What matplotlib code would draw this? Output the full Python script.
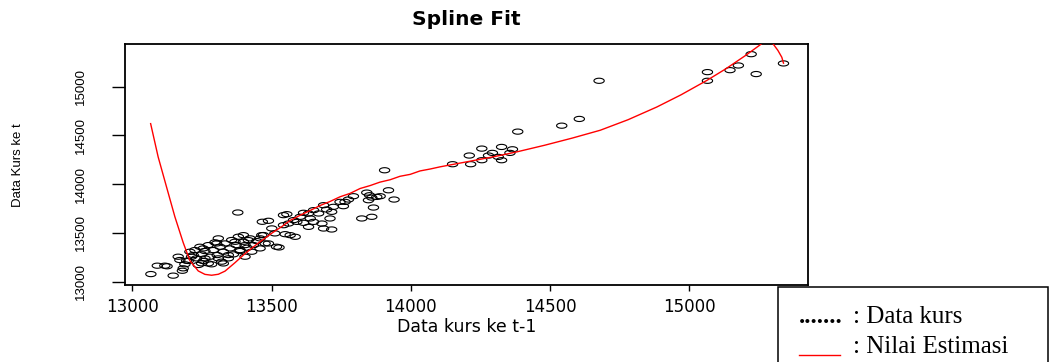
import numpy as np
import matplotlib
matplotlib.use('Agg')
import matplotlib.pyplot as plt
from matplotlib.path import Path
from matplotlib.patches import Rectangle
from matplotlib.lines import Line2D

# data kurs: (t-1, t) pairs
kurs_prev = [13117, 13147, 13165, 13171, 13183, 13189, 13201, 13207, 13219, 13225,
             13231, 13237, 13243, 13249, 13255, 13261, 13273, 13279, 13285, 13291,
             13297, 13305, 13309, 13315, 13321, 13327, 13333, 13345, 13351, 13357,
             13363, 13373, 13381, 13387, 13399, 13405, 13413, 13423, 13435, 13447,
             13459, 13471, 13489, 13501, 13518, 13512,
             13067, 13090, 13125, 13180, 13195, 13213, 13255, 13261, 13273, 13303,
             13309, 13327, 13345, 13369, 13387, 13399, 13405, 13417, 13429, 13459,
             13465, 13477, 13379, 13467, 13489, 13527, 13543, 13543, 13249,
             13906, 13920, 13940, 13860, 13842, 13852, 13848, 13878, 13890, 13866,
             13860, 13824, 13794, 13776, 13764, 13746, 13758, 13722, 13716, 13687,
             13698, 13669, 13651, 13633, 13615, 13555, 13561, 13603, 13591, 13615,
             13633, 13651, 13681, 13687, 13716, 13710, 13639, 13579, 13549, 13567,
             13585,
             14150, 14215, 14210, 14255, 14255, 14279, 14293, 14314, 14326, 14326,
             14356, 14365, 14384, 14542, 14605, 14676, 15065, 15065, 15146, 15176,
             15222, 15240, 15338]
kurs_now = [13164, 13062, 13256, 13222, 13137, 13178, 13212, 13307, 13273, 13324,
            13239, 13171, 13358, 13280, 13212, 13314, 13375, 13256, 13178, 13324,
            13403, 13273, 13444, 13358, 13205, 13307, 13392, 13239, 13341, 13427,
            13280, 13375, 13461, 13314, 13409, 13256, 13348, 13444, 13375, 13416,
            13444, 13478, 13392, 13546, 13358, 13495,
            13078, 13164, 13158, 13112, 13215, 13256, 13341, 13239, 13187, 13392,
            13239, 13187, 13273, 13409, 13324, 13477, 13375, 13426, 13307, 13341,
            13477, 13392, 13709, 13614, 13624, 13351, 13682, 13579, 13188,
            14142, 13937, 13842, 13862, 13913, 13886, 13835, 13869, 13876, 13760,
            13665, 13648, 13876, 13842, 13818, 13818, 13774, 13767, 13716, 13784,
            13740, 13699, 13733, 13699, 13706, 13692, 13596, 13665, 13613, 13603,
            13562, 13613, 13596, 13545, 13535, 13648, 13648, 13631, 13487, 13477,
            13460,
            14204, 14204, 14293, 14364, 14245, 14293, 14320, 14279, 14381, 14245,
            14320, 14357, 14538, 14599, 14668, 15059, 15148, 15059, 15168, 15216,
            15332, 15128, 15237]

# nilai estimasi (spline)
fit_x = [13066, 13093, 13123, 13153, 13183, 13207, 13237, 13261, 13285, 13309,
         13333, 13369, 13405, 13453, 13501, 13537, 13567, 13602, 13639, 13674,
         13710, 13746, 13782, 13818, 13854, 13889, 13926, 13961, 13998, 14033,
         14070, 14105, 14200, 14300, 14380, 14480, 14580, 14680, 14780, 14883,
         14970, 15063, 15130, 15200, 15254, 15275, 15300, 15318, 15332, 15338]
fit_y = [14620, 14279, 13972, 13666, 13400, 13215, 13110, 13075, 13066, 13076,
         13108, 13195, 13288, 13397, 13497, 13565, 13628, 13680, 13730, 13780,
         13822, 13870, 13905, 13955, 13985, 14020, 14045, 14080, 14100, 14135,
         14155, 14177, 14228, 14282, 14330, 14398, 14472, 14552, 14660, 14790,
         14915, 15063, 15180, 15315, 15427, 15480, 15440, 15370, 15300, 15240]

x_ticks = [13000, 13500, 14000, 14500, 15000]
y_ticks = [13000, 13500, 14000, 14500, 15000]

W, H = 1049, 362
fig = plt.figure(figsize=(W / 100, H / 100), dpi=100)
ax = fig.add_axes([125 / W, 1 - 285 / H, (808 - 125) / W, (285 - 44.3) / H])

# wide open circles, as in the stretched original
theta = np.linspace(0, 2 * np.pi, 60)
ellipse = Path(np.column_stack([np.cos(theta), 0.5 * np.sin(theta)]))

ax.scatter(kurs_prev, kurs_now, marker=ellipse, s=55, facecolors='none',
           edgecolors='black', linewidths=0.8, zorder=2)
ax.plot(fit_x, fit_y, color='red', lw=1.0, zorder=3)

ax.set_xlim(12974, 15426)
ax.set_ylim(12966, 15433)
ax.set_xticks(x_ticks)
ax.set_xticklabels([str(v) for v in x_ticks], fontsize=12, family='DejaVu Sans')
ax.set_yticks(y_ticks)
ax.set_yticklabels([str(v) for v in y_ticks], rotation=90, va='center',
                   fontsize=9.5, family='Liberation Sans')
ax.tick_params(axis='x', length=4, width=1, pad=5)
ax.tick_params(axis='y', length=9.5, width=1, pad=18)
for s in ax.spines.values():
    s.set_linewidth(1.3)

ax.set_title('Spline Fit', fontsize=14.5, fontweight='bold', y=1.105, pad=0,
             va='center')
ax.set_xlabel('Data kurs ke t-1', fontsize=12.5)
ax.xaxis.set_label_coords(0.5, -0.175)
ax.xaxis.label.set_va('center')
ax.set_ylabel('Data Kurs ke t', fontsize=9.5, family='Liberation Sans')
ax.yaxis.set_label_coords(-0.157, 0.5)
ax.yaxis.label.set_va('center')

# hand-drawn legend box in the lower right corner
fig.patches.append(Rectangle((778 / W, -0.1), (1047.5 - 778) / W, 1 - 287 / H + 0.1,
                             transform=fig.transFigure, facecolor='white',
                             edgecolor='black', lw=1.1))
serif = ['Liberation Serif', 'DejaVu Serif']
fig.text(799 / W, 1 - 323 / H, '.......', fontsize=18, fontweight='bold',
         family=serif, va='baseline')
fig.text(853 / W, 1 - 323 / H, ': Data kurs', fontsize=18, family=serif, va='baseline')
fig.lines.append(Line2D([799 / W, 840 / W], [1 - 355 / H, 1 - 355 / H],
                        transform=fig.transFigure, color='red', lw=1.0))
fig.text(853 / W, 1 - 352.7 / H, ': Nilai Estimasi', fontsize=18, family=serif,
         va='baseline')

fig.savefig('out.png', dpi=100)
